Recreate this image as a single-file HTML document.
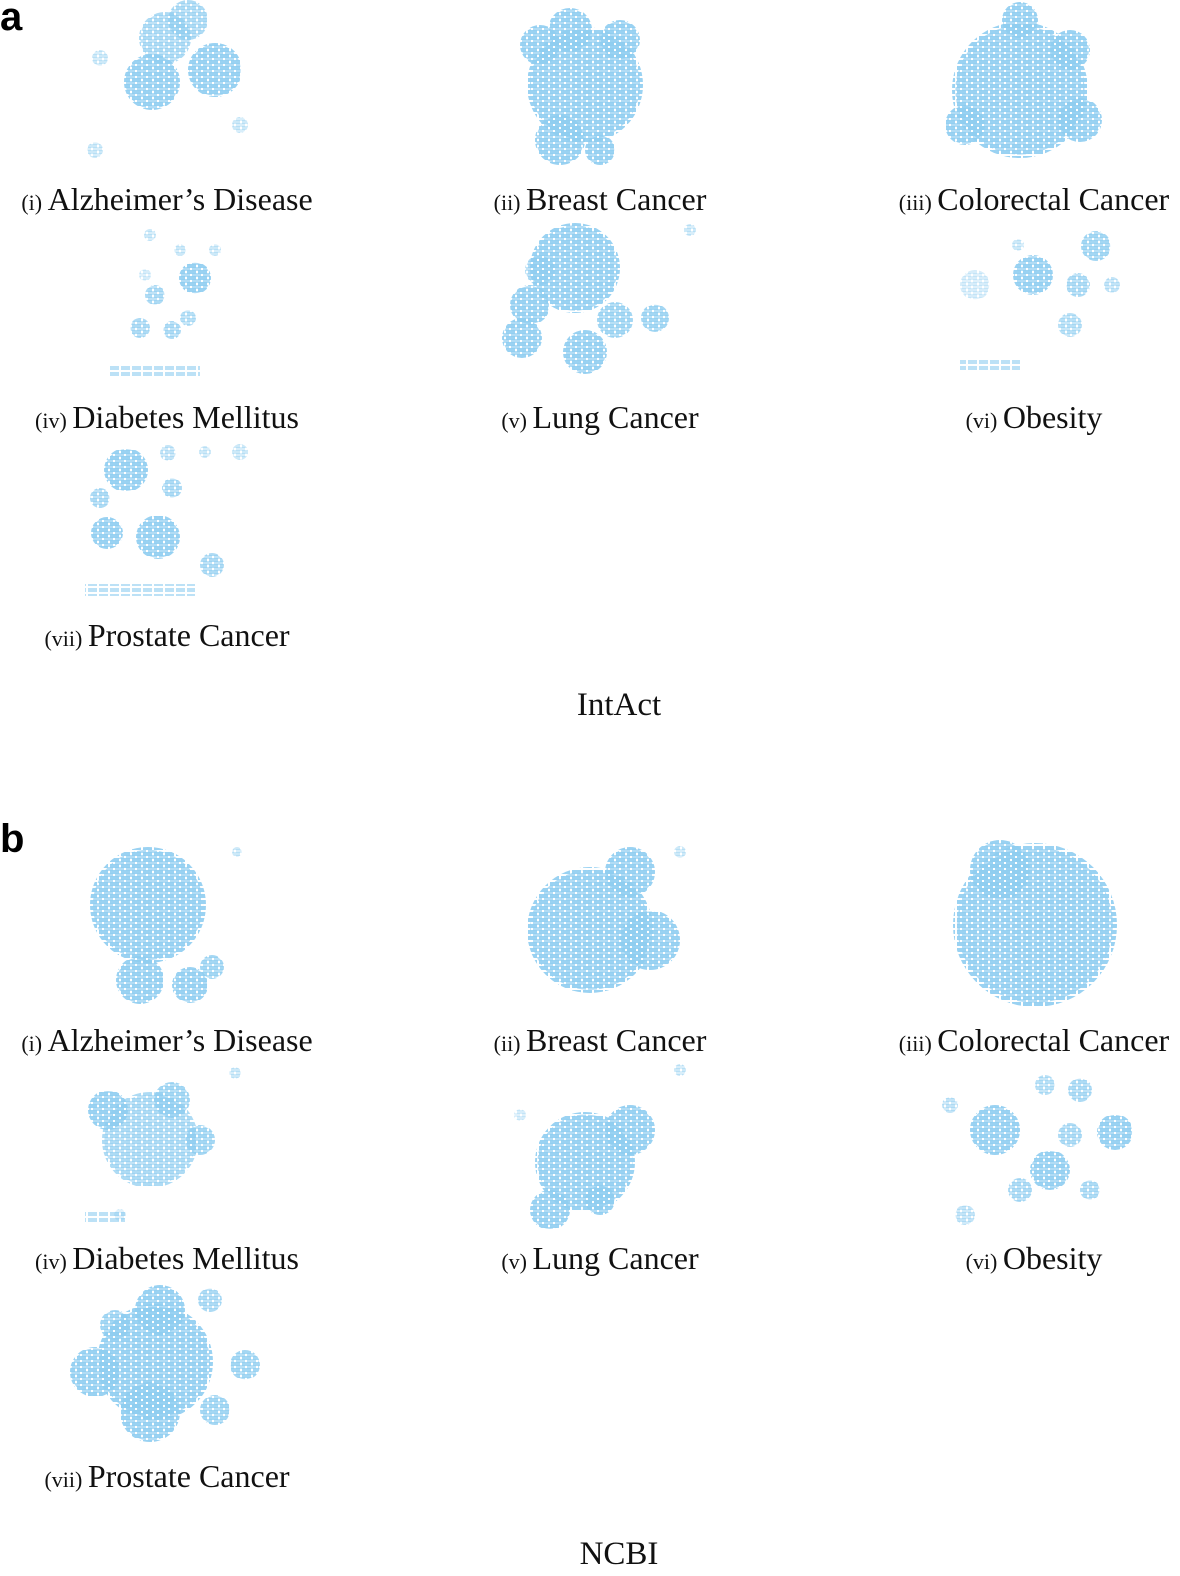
<!DOCTYPE html>
<html><head><meta charset="utf-8"><style>
body{margin:0;background:#fff;width:1180px;height:1576px;overflow:hidden}
svg{display:block}
.lbl{font-family:"Liberation Serif",serif;font-size:32px;fill:#111}
.sm{font-size:22px}
.pl{font-family:"Liberation Sans",sans-serif;font-weight:bold;font-size:40px;fill:#000}
</style></head><body>
<svg id="fig" width="1180" height="1576" viewBox="0 0 1180 1576">
<defs>
<pattern id="nodes" width="11" height="6" patternUnits="userSpaceOnUse">
<rect x="0" y="0" width="9" height="4" fill="#8fcdf0"/>
</pattern>
<pattern id="nodes2" width="11" height="6" patternUnits="userSpaceOnUse" patternTransform="translate(5,3)">
<rect x="0" y="0" width="9" height="4" fill="#8fcdf0"/>
</pattern>
</defs>
<text class="pl" x="0" y="30">a</text>
<text class="pl" x="0" y="852">b</text>
<g id="clusters"></g>
<g id="labels"></g>
</svg>
<script>
// clusters: [cx, cy, r, density(0..1)]
const panelA = [
 [152,82,28,1],[215,70,27,1],[165,38,26,.8],[188,20,20,.8],[100,58,8,.5],[240,125,8,.5],[95,150,8,.5],
 [585,85,58,1],[560,140,25,1],[600,150,15,1],[540,45,20,1],[620,40,20,1],[570,30,22,1],
 [1020,90,68,1],[1020,20,18,1],[965,125,20,1],[1080,120,22,1],[1070,50,20,1],
 [195,278,16,1],[155,295,10,.8],[140,328,10,.8],[172,330,9,.8],[188,318,8,.7],[180,250,6,.5],[150,235,6,.5],[215,250,6,.5],[145,275,6,.4],
 [575,268,45,1],[530,305,20,1],[522,338,20,1],[585,352,22,1],[615,320,18,.9],[655,318,14,.9],[540,270,15,.8],[690,230,6,.5],
 [1033,275,20,1],[1096,246,15,.9],[1078,285,12,.8],[1070,325,12,.7],[975,285,15,.4],[1018,245,6,.5],[1112,285,8,.6],
 [126,470,22,1],[158,537,22,1],[107,533,16,1],[100,498,10,.8],[172,488,10,.8],[212,565,12,.8],[168,453,8,.6],[205,452,6,.5],[240,452,8,.5]
];
const rowsA = [[110,370,90],[960,365,60],[85,590,110]];
const panelB = [
 [148,905,58,1],[140,980,24,1],[190,985,18,1],[212,967,12,.9],[237,852,5,.5],
 [590,930,63,1],[630,872,25,1],[650,940,30,1],[680,852,6,.5],
 [1035,925,82,1],[1000,870,30,1],
 [150,1140,48,.8],[108,1110,20,1],[200,1140,15,.9],[235,1073,6,.5],[172,1100,18,.9],[120,1215,6,.4],
 [585,1162,50,1],[550,1210,20,1],[600,1200,15,1],[630,1130,25,1],[680,1070,6,.5],[520,1115,6,.4],
 [995,1130,25,1],[1050,1170,20,1],[1115,1132,18,1],[1070,1135,12,.8],[1020,1190,12,.8],[1080,1090,12,.8],[1090,1190,10,.8],[950,1105,8,.6],[965,1215,10,.6],[1045,1085,10,.7],
 [155,1362,58,1],[95,1372,25,1],[150,1412,30,1],[215,1410,15,.9],[245,1365,15,.9],[210,1300,12,.8],[160,1310,25,1],[115,1325,15,.9]
];
const rowsB = [[85,1218,40]];
const labelsA = [["(i)","Alzheimer’s Disease",167,210],["(ii)","Breast Cancer",600,210],["(iii)","Colorectal Cancer",1034,210],
 ["(iv)","Diabetes Mellitus",167,428],["(v)","Lung Cancer",600,428],["(vi)","Obesity",1034,428],["(vii)","Prostate Cancer",167,646]];
const NS="http://www.w3.org/2000/svg";
const cg=document.getElementById('clusters'), lg=document.getElementById('labels');
function cluster(c,i,pre){
 const g=document.createElementNS(NS,'g');
 
 
 const a=document.createElementNS(NS,'circle');
 a.setAttribute('cx',c[0]);a.setAttribute('cy',c[1]);a.setAttribute('r',c[2]);
 a.setAttribute('fill','url(#nodes)');a.setAttribute('opacity',c[3]*0.9);
 const b=document.createElementNS(NS,'circle');
 b.setAttribute('cx',c[0]);b.setAttribute('cy',c[1]);b.setAttribute('r',c[2]*0.95);
 b.setAttribute('fill','url(#nodes2)');b.setAttribute('opacity',c[3]*0.7);
 g.appendChild(a);g.appendChild(b);cg.appendChild(g);
}
function row(r,i,pre){
 const e=document.createElementNS(NS,'rect');
 e.setAttribute('x',r[0]);e.setAttribute('y',r[1]-6);e.setAttribute('width',r[2]);e.setAttribute('height',12);
 e.setAttribute('fill','url(#nodes)');e.setAttribute('opacity',.6);
 
 
 cg.appendChild(e);
}
panelA.forEach((c,i)=>cluster(c,i,'intact'));
panelB.forEach((c,i)=>cluster(c,i,'ncbi'));
rowsA.forEach((r,i)=>row(r,i,'intact'));
rowsB.forEach((r,i)=>row(r,i,'ncbi'));
function label(l,dy,pre,i){
 const t=document.createElementNS(NS,'text');
 t.setAttribute('class','lbl');t.setAttribute('x',l[2]);t.setAttribute('y',l[3]+dy);t.setAttribute('text-anchor','middle');
 
 
 const s=document.createElementNS(NS,'tspan');s.setAttribute('class','sm');s.textContent=l[0]+' ';
 const m=document.createElementNS(NS,'tspan');m.textContent=l[1];
 t.appendChild(s);t.appendChild(m);lg.appendChild(t);
}
labelsA.forEach((l,i)=>label(l,0,'intact',i));
labelsA.forEach((l,i)=>label(l,841,'ncbi',i));
const titles=[["IntAct",715],["NCBI",1564]];
titles.forEach((tt,i)=>{
 const t=document.createElementNS(NS,'text');
 t.setAttribute('class','lbl');t.setAttribute('x',619);t.setAttribute('y',tt[1]);t.setAttribute('text-anchor','middle');
 t.setAttribute('style','font-size:33px');
 
 
 t.textContent=tt[0];lg.appendChild(t);
});
</script>
</body></html>
